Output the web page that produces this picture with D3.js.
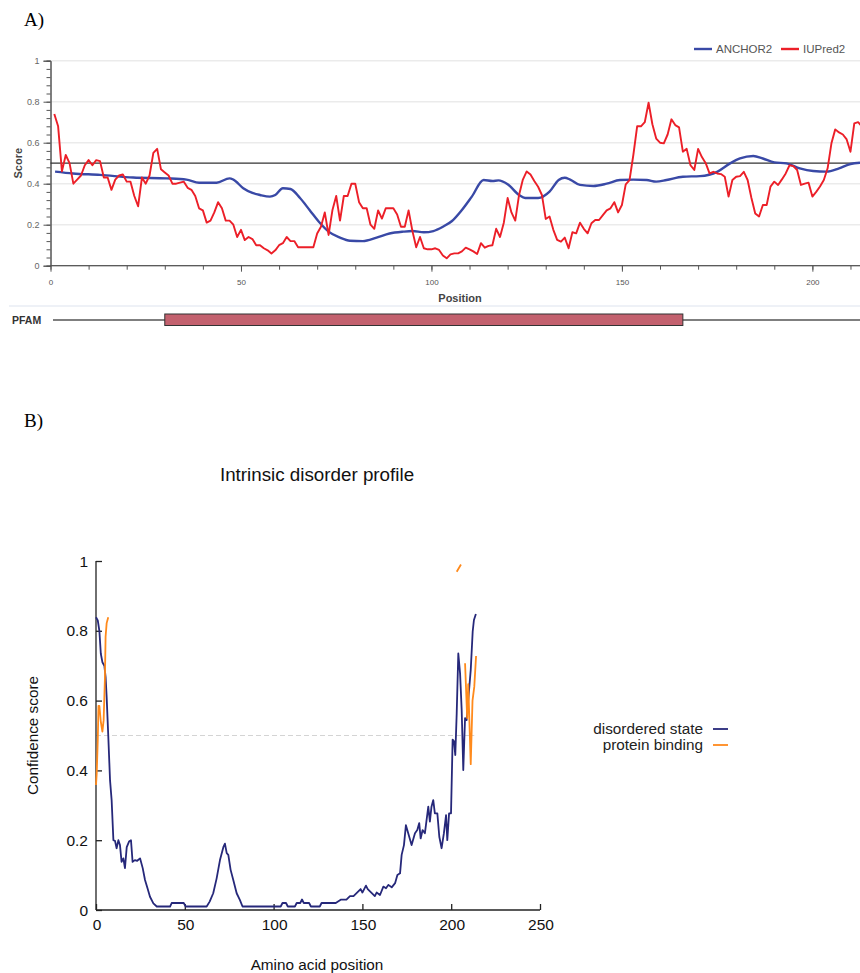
<!DOCTYPE html>
<html>
<head>
<meta charset="utf-8">
<script src="https://cdn.jsdelivr.net/npm/d3@7"></script>
<style>
  html, body { margin: 0; padding: 0; background: #fff; }
  svg { display: block; }
</style>
</head>
<body>
<svg id="chart" width="860" height="973"></svg>
<script>
// ---------------- Panel A data ----------------
const iupredValues = [
 0.74,0.68,0.46,0.54,0.50,0.40,0.42,0.44,0.49,0.515,
 0.49,0.515,0.51,0.43,0.43,0.37,0.42,0.44,0.445,0.41,
 0.41,0.34,0.29,0.43,0.40,0.44,0.55,0.57,0.47,0.455,
 0.44,0.40,0.40,0.405,0.41,0.38,0.37,0.34,0.28,0.27,
 0.21,0.22,0.26,0.31,0.28,0.22,0.22,0.20,0.14,0.175,
 0.125,0.14,0.13,0.10,0.10,0.085,0.075,0.06,0.075,0.10,
 0.11,0.14,0.12,0.12,0.09,0.09,0.09,0.09,0.09,0.157,
 0.19,0.26,0.15,0.27,0.34,0.22,0.34,0.34,0.40,0.40,
 0.31,0.28,0.28,0.20,0.18,0.27,0.23,0.28,0.28,0.28,
 0.25,0.19,0.19,0.27,0.17,0.09,0.14,0.085,0.08,0.08,
 0.085,0.077,0.05,0.036,0.055,0.06,0.06,0.07,0.088,0.08,
 0.07,0.057,0.11,0.088,0.097,0.10,0.18,0.14,0.21,0.33,
 0.26,0.22,0.345,0.42,0.46,0.445,0.413,0.385,0.345,0.228,
 0.24,0.175,0.126,0.117,0.137,0.085,0.163,0.158,0.21,0.18,
 0.158,0.207,0.223,0.223,0.247,0.27,0.28,0.31,0.26,0.296,
 0.397,0.418,0.54,0.68,0.68,0.70,0.795,0.69,0.62,0.60,
 0.597,0.64,0.714,0.686,0.675,0.556,0.57,0.49,0.467,0.57,
 0.53,0.50,0.45,0.458,0.45,0.447,0.434,0.337,0.418,0.434,
 0.437,0.458,0.418,0.33,0.255,0.24,0.296,0.296,0.386,0.41,
 0.394,0.421,0.45,0.49,0.486,0.467,0.394,0.40,0.405,0.337,
 0.36,0.386,0.418,0.475,0.597,0.665,0.65,0.64,0.616,0.556,
 0.694,0.70,0.68
];
const iupredPositions = iupredValues.map((v, i) => i + 1);

const anchorPositions = [1.2,5.9,13,21.7,30.5,35.7,39,43.6,47,48,50.6,53,55,57.6,59,61,63,65.5,68,70.8,73,76,78.6,82,85.6,89,92.6,95,98,100.5,103,105.4,108,110.6,113.7,116,117.6,120,123,124.6,128,131,133.4,135,136.4,139,142.5,146,149.5,153,156.5,159,161.7,166,170.5,175,178.4,181,184.5,187,190,193.2,196.7,200.2,203.7,207,210,212.5];
const anchorValues = [0.459,0.45,0.443,0.43,0.426,0.42,0.405,0.405,0.426,0.42,0.378,0.355,0.345,0.337,0.345,0.378,0.374,0.33,0.272,0.207,0.166,0.137,0.122,0.12,0.137,0.157,0.166,0.169,0.163,0.169,0.19,0.218,0.272,0.337,0.418,0.413,0.416,0.397,0.345,0.33,0.33,0.361,0.418,0.429,0.42,0.394,0.389,0.40,0.418,0.42,0.418,0.41,0.418,0.434,0.437,0.458,0.499,0.523,0.535,0.523,0.504,0.499,0.475,0.462,0.459,0.475,0.496,0.502];

const scoreTicks = [0, 0.2, 0.4, 0.6, 0.8, 1];
const scoreTickLabels = ["0", "0.2", "0.4", "0.6", "0.8", "1"];
const positionTicks = [0, 50, 100, 150, 200];
const thresholdA = 0.5;
const pfamStart = 30, pfamEnd = 166;
const legendA = ["ANCHOR2", "IUPred2"];

// ---------------- Panel B data ----------------
const disorderPos = [0,1,1.9,2.7,3.6,4.7,5.4,6,6.9,7.9,8.8,9.8,10.7,11.6,12.6,13.5,14.4,15.4,16.3,17.3,18.6,19.7,20.6,21.9,23.2,24.8,26.3,27.6,29,30.4,32.3,34.2,41.7,42.6,49.4,50.5,62.3,64,66,67.9,69.8,71.7,72.6,73.6,74.5,75.8,77.3,79.2,81,82.5,104,105,107,108,112,113,115,116,117,120,121,126,127,135,138,141,143,145,147,149,150,152,153,155,157,158,159.9,161.8,163.3,164.6,166.5,168.4,169.7,171.2,172.1,173.4,174.5,175.8,177.7,179.6,180.9,182,182.8,183.9,185.2,187.1,188,188.9,189.9,190.8,192.2,193.3,194.6,195.9,197.1,197.8,198.8,199.9,200.8,201.6,202.3,203.1,204,205,205.9,206.8,207.8,208.7,209.6,211,212.1,212.8,213.9];
const disorderVal = [0.839,0.83,0.80,0.735,0.71,0.70,0.668,0.61,0.50,0.372,0.315,0.20,0.198,0.177,0.20,0.186,0.138,0.148,0.12,0.18,0.196,0.20,0.138,0.143,0.141,0.148,0.12,0.086,0.062,0.038,0.019,0.01,0.01,0.02,0.02,0.01,0.01,0.024,0.048,0.09,0.143,0.18,0.19,0.163,0.158,0.115,0.086,0.048,0.029,0.01,0.01,0.02,0.02,0.01,0.01,0.02,0.02,0.03,0.02,0.02,0.01,0.01,0.02,0.02,0.03,0.03,0.04,0.04,0.05,0.06,0.05,0.07,0.06,0.05,0.04,0.05,0.043,0.067,0.062,0.072,0.065,0.077,0.10,0.105,0.158,0.186,0.243,0.22,0.186,0.22,0.229,0.249,0.205,0.229,0.22,0.296,0.253,0.296,0.315,0.277,0.277,0.21,0.177,0.22,0.272,0.20,0.277,0.277,0.488,0.483,0.444,0.564,0.735,0.678,0.573,0.401,0.55,0.544,0.602,0.688,0.798,0.831,0.848];

const bindingPos = [0,0.4,1,1.4,1.9,2.7,3.6,4.3,5,5.4,6,6.9,null,203.1,205.5,null,207.8,209,209.6,211,212,213,214];
const bindingVal = [0.358,0.391,0.488,0.585,0.585,0.54,0.511,0.544,0.659,0.783,0.822,0.839,null,0.969,0.99,null,0.707,0.55,0.647,0.418,0.60,0.64,0.728];

const confTicks = [0, 0.2, 0.4, 0.6, 0.8, 1];
const confTickLabels = ["0", "0.2", "0.4", "0.6", "0.8", "1"];
const aaTicks = [0, 50, 100, 150, 200, 250];
const thresholdB = 0.5;
const legendB = ["disordered state", "protein binding"];

// ---------------- Drawing ----------------
const svg = d3.select("#chart");
const sansA = "'Liberation Sans', Arial, sans-serif";

// Panel labels
svg.append("text").attr("x", 24).attr("y", 26)
  .attr("font-family", "'Liberation Serif', 'Times New Roman', serif")
  .attr("font-size", 19).attr("fill", "#000").text("A)");
svg.append("text").attr("x", 24).attr("y", 427)
  .attr("font-family", "'Liberation Serif', 'Times New Roman', serif")
  .attr("font-size", 19).attr("fill", "#000").text("B)");

// ---- Panel A ----
const xA = d3.scaleLinear().domain([0, 212.5]).range([50.5, 860]);
const yA = d3.scaleLinear().domain([0, 1]).range([265.7, 60.7]);
const gA = svg.append("g");

svg.append("defs").append("clipPath").attr("id", "clipA")
  .append("rect").attr("x", 50).attr("y", 40).attr("width", 810).attr("height", 240);

// gridlines
gA.append("g").selectAll("line").data(scoreTicks.filter(d => d > 0)).join("line")
  .attr("x1", xA(0)).attr("x2", 860)
  .attr("y1", d => yA(d)).attr("y2", d => yA(d))
  .attr("stroke", "#ebebeb").attr("stroke-width", 1.6);

// y axis (major + minor)
const yAxisMinor = d3.axisLeft(yA).tickValues(d3.range(0, 1.0001, 0.04)).tickSize(4).tickFormat("");
const yAxisMajor = d3.axisLeft(yA).tickValues(scoreTicks).tickSize(7).tickPadding(4)
  .tickFormat((d, i) => scoreTickLabels[i]);
const gyMin = gA.append("g").attr("transform", `translate(${xA(0)},0)`).call(yAxisMinor);
const gyMaj = gA.append("g").attr("transform", `translate(${xA(0)},0)`).call(yAxisMajor);
[gyMin, gyMaj].forEach(g => {
  g.select(".domain").attr("stroke", "#555");
  g.selectAll(".tick line").attr("stroke", "#555");
});
gyMaj.selectAll(".tick text").attr("font-family", sansA).attr("font-size", 9).attr("fill", "#666");

// x axis
const xAxisMinor = d3.axisBottom(xA).tickValues(d3.range(0, 211, 10)).tickSize(4).tickFormat("");
const xAxisMajor = d3.axisBottom(xA).tickValues(positionTicks).tickSize(6).tickPadding(8);
const gxMin = gA.append("g").attr("transform", `translate(0,${yA(0)})`).call(xAxisMinor);
const gxMaj = gA.append("g").attr("transform", `translate(0,${yA(0)})`).call(xAxisMajor);
[gxMin, gxMaj].forEach(g => {
  g.select(".domain").attr("stroke", "#555").attr("d", `M${xA(0)},0H860`);
  g.selectAll(".tick line").attr("stroke", "#555");
});
gxMaj.selectAll(".tick text").attr("font-family", sansA).attr("font-size", 8).attr("fill", "#555");

// threshold
gA.append("line").attr("x1", xA(0)).attr("x2", 860)
  .attr("y1", yA(thresholdA)).attr("y2", yA(thresholdA))
  .attr("stroke", "#333").attr("stroke-width", 1.3);

// series
const plotA = gA.append("g").attr("clip-path", "url(#clipA)");
const lineA = d3.line().x(d => xA(d[0])).y(d => yA(d[1]));
plotA.append("path")
  .datum(anchorPositions.map((p, i) => [p, anchorValues[i]]))
  .attr("d", lineA.curve(d3.curveMonotoneX))
  .attr("fill", "none").attr("stroke", "#3949a6").attr("stroke-width", 2.4);
plotA.append("path")
  .datum(iupredPositions.map((p, i) => [p, iupredValues[i]]))
  .attr("d", d3.line().x(d => xA(d[0])).y(d => yA(d[1])))
  .attr("fill", "none").attr("stroke", "#ec1f28").attr("stroke-width", 1.9)
  .attr("stroke-linejoin", "round");

// axis titles
gA.append("text").attr("transform", `translate(22,${yA(0.5)}) rotate(-90)`)
  .attr("text-anchor", "middle").attr("font-family", sansA).attr("font-weight", "bold")
  .attr("font-size", 11).attr("fill", "#444").text("Score");
gA.append("text").attr("x", 460).attr("y", 302).attr("text-anchor", "middle")
  .attr("font-family", sansA).attr("font-weight", "bold").attr("font-size", 11)
  .attr("fill", "#444").text("Position");

// legend A
const legColors = ["#3949a6", "#ec1f28"];
const legX = [694, 781];
legendA.forEach((name, i) => {
  gA.append("line").attr("x1", legX[i]).attr("x2", legX[i] + 18).attr("y1", 49).attr("y2", 49)
    .attr("stroke", legColors[i]).attr("stroke-width", 2.4);
  gA.append("text").attr("x", legX[i] + 22).attr("y", 53).attr("font-family", sansA)
    .attr("font-size", 11.5).attr("fill", "#555").text(name);
});

// separator + PFAM track
gA.append("line").attr("x1", 9).attr("x2", 860).attr("y1", 306).attr("y2", 306)
  .attr("stroke", "#dde3ee").attr("stroke-width", 1);
gA.append("text").attr("x", 12).attr("y", 324).attr("font-family", sansA)
  .attr("font-weight", "bold").attr("font-size", 10.5).attr("fill", "#333").text("PFAM");
gA.append("line").attr("x1", 53).attr("x2", 860).attr("y1", 320).attr("y2", 320)
  .attr("stroke", "#555").attr("stroke-width", 1.3);
gA.append("rect").attr("x", xA(pfamStart)).attr("y", 314)
  .attr("width", xA(pfamEnd) - xA(pfamStart)).attr("height", 11.5)
  .attr("fill", "#c3616e").attr("stroke", "#333").attr("stroke-width", 1);

// ---- Panel B ----
const sansB = "'Liberation Sans', Arial, sans-serif";
const xB = d3.scaleLinear().domain([0, 250]).range([96, 540]);
const yB = d3.scaleLinear().domain([0, 1]).range([910, 561]);
const gB = svg.append("g");

gB.append("text").attr("x", 317).attr("y", 481).attr("text-anchor", "middle")
  .attr("font-family", sansB).attr("font-size", 18.8).attr("fill", "#111")
  .text("Intrinsic disorder profile");

// threshold dashed
gB.append("line").attr("x1", xB(0)).attr("x2", xB(213)).attr("y1", yB(thresholdB)).attr("y2", yB(thresholdB))
  .attr("stroke", "#d4d4d4").attr("stroke-width", 1).attr("stroke-dasharray", "5,3");

const yAxisB = d3.axisRight(yB).tickValues(confTicks).tickSize(6).tickFormat("");
const gyB = gB.append("g").attr("transform", `translate(${xB(0)},0)`).call(yAxisB);
gyB.select(".domain").attr("stroke", "#222").attr("d", `M0,${yB(1)}V${yB(0)}`).attr("stroke-width", 1.3);
gyB.selectAll(".tick line").attr("stroke", "#222").attr("stroke-width", 1.3);
gB.append("g").selectAll("text").data(confTicks).join("text")
  .attr("x", 88).attr("y", d => yB(d) + 5.5).attr("text-anchor", "end")
  .attr("font-family", sansB).attr("font-size", 15.5).attr("fill", "#111")
  .text((d, i) => confTickLabels[i]);

const xAxisB = d3.axisTop(xB).tickValues(aaTicks).tickSize(6).tickFormat("");
const gxB = gB.append("g").attr("transform", `translate(0,${yB(0)})`).call(xAxisB);
gxB.select(".domain").attr("stroke", "#222").attr("d", `M${xB(0)},0H${xB(250)}`).attr("stroke-width", 1.3);
gxB.selectAll(".tick line").attr("stroke", "#222").attr("stroke-width", 1.3);
gB.append("g").selectAll("text").data(aaTicks).join("text")
  .attr("x", d => xB(d) + 1).attr("y", 930).attr("text-anchor", "middle")
  .attr("font-family", sansB).attr("font-size", 15.5).attr("fill", "#111").text(d => d);

gB.append("text").attr("x", 317).attr("y", 970).attr("text-anchor", "middle")
  .attr("font-family", sansB).attr("font-size", 15.3).attr("fill", "#111").text("Amino acid position");
gB.append("text").attr("transform", `translate(38,${yB(0.5)}) rotate(-90)`)
  .attr("text-anchor", "middle").attr("font-family", sansB).attr("font-size", 15.3)
  .attr("fill", "#111").text("Confidence score");

const lineB = d3.line().defined(d => d[0] !== null).x(d => xB(d[0])).y(d => yB(d[1]));
gB.append("path").datum(disorderPos.map((p, i) => [p, disorderVal[i]]))
  .attr("d", lineB).attr("fill", "none").attr("stroke", "#26287a").attr("stroke-width", 1.8)
  .attr("stroke-linejoin", "round");
gB.append("path").datum(bindingPos.map((p, i) => [p, bindingVal[i]]))
  .attr("d", lineB).attr("fill", "none").attr("stroke", "#ff8a1c").attr("stroke-width", 1.8)
  .attr("stroke-linejoin", "round");

// legend B
const legColB = ["#26287a", "#ff8a1c"];
legendB.forEach((name, i) => {
  const y = 734 + i * 16;
  gB.append("text").attr("x", 703).attr("y", y).attr("text-anchor", "end")
    .attr("font-family", sansB).attr("font-size", 15.3).attr("fill", "#222").text(name);
  gB.append("line").attr("x1", 713).attr("x2", 728).attr("y1", y - 5).attr("y2", y - 5)
    .attr("stroke", legColB[i]).attr("stroke-width", 1.8);
});
</script>
</body>
</html>
